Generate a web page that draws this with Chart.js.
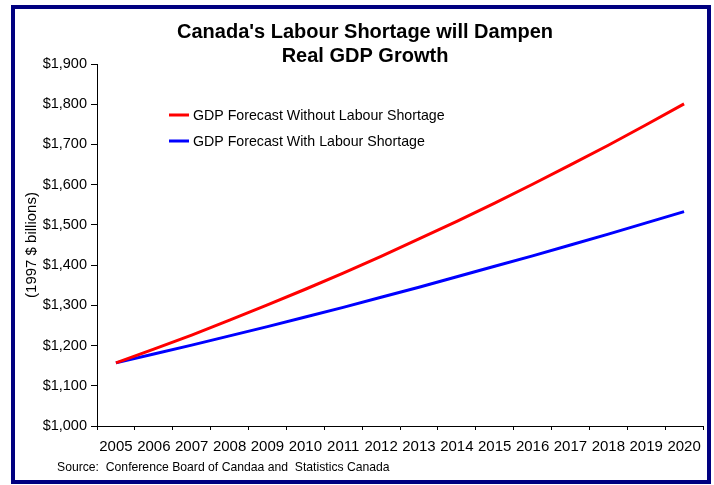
<!DOCTYPE html>
<html>
<head>
<meta charset="utf-8">
<title>Canada's Labour Shortage will Dampen Real GDP Growth</title>
<script src="https://cdn.jsdelivr.net/npm/chart.js@4/dist/chart.umd.min.js"></script>
<style>
  html, body { margin: 0; padding: 0; background: #ffffff; }
  #wrap { position: relative; width: 714px; height: 485px; overflow: hidden; }
  #gdp { position: absolute; left: 0; top: 0; }
  #frame {
    position: absolute; left: 11px; top: 5px; width: 700px; height: 479px;
    box-sizing: border-box; border: 4px solid #000080; pointer-events: none;
  }
</style>
</head>
<body>
<div id="wrap">
  <canvas id="gdp" width="714" height="485"></canvas>
  <div id="frame"></div>
</div>
<script>
// Real GDP, 1997 $ billions
const years = ['2005', '2006', '2007', '2008', '2009', '2010', '2011', '2012',
               '2013', '2014', '2015', '2016', '2017', '2018', '2019', '2020'];
const withoutShortage = [1157, 1191, 1226, 1263, 1301, 1340, 1380, 1422,
                         1465, 1509, 1554, 1601, 1649, 1698, 1749, 1801];
const withShortage = [1157, 1179, 1201, 1224, 1247, 1271, 1295, 1320,
                      1345, 1371, 1397, 1423, 1450, 1477, 1505, 1533];
const yTickValues = [1000, 1100, 1200, 1300, 1400, 1500, 1600, 1700, 1800, 1900];
const seriesNames = ['GDP Forecast Without Labour Shortage', 'GDP Forecast With Labour Shortage'];
const titleLines = ["Canada's Labour Shortage will Dampen", 'Real GDP Growth'];
const yAxisTitle = '(1997 $ billions)';
const sourceNote = 'Source:  Conference Board of Candaa and  Statistics Canada';

const FONT = '"Liberation Sans", Arial, Helvetica, sans-serif';
Chart.defaults.color = '#000000';
Chart.defaults.font.family = FONT;

const money = v => '$' + Number(v).toLocaleString('en-US');

// Legend inside the plot and the source line underneath
const annotations = {
  id: 'annotations',
  afterDraw(chart) {
    const ctx = chart.ctx;
    ctx.save();
    ctx.font = '14.2px ' + FONT;
    ctx.textAlign = 'left';
    ctx.textBaseline = 'alphabetic';
    chart.data.datasets.forEach((ds, i) => {
      const y = 115 + i * 26;
      ctx.strokeStyle = ds.borderColor;
      ctx.lineWidth = 3;
      ctx.beginPath();
      ctx.moveTo(169, y);
      ctx.lineTo(189, y);
      ctx.stroke();
      ctx.fillStyle = '#000000';
      ctx.fillText(ds.label, 193, y + 5);
    });
    ctx.font = '12.2px ' + FONT;
    ctx.fillText(sourceNote, 57, 471);
    ctx.restore();
  }
};

new Chart(document.getElementById('gdp'), {
  type: 'line',
  data: {
    labels: years,
    datasets: [
      { label: seriesNames[0], data: withoutShortage, borderColor: '#ff0000',
        backgroundColor: '#ff0000', borderWidth: 3, pointRadius: 0, tension: 0, fill: false },
      { label: seriesNames[1], data: withShortage, borderColor: '#0000ff',
        backgroundColor: '#0000ff', borderWidth: 3, pointRadius: 0, tension: 0, fill: false }
    ]
  },
  options: {
    responsive: false,
    animation: false,
    devicePixelRatio: 1,
    layout: { padding: { left: 27, right: 11, top: 20, bottom: 29 } },
    plugins: {
      legend: { display: false },
      tooltip: { enabled: false },
      title: {
        display: true,
        text: titleLines,
        color: '#000000',
        font: { family: FONT, size: 20, weight: 'bold', lineHeight: 1.2 },
        padding: { top: 0, bottom: -4 }
      }
    },
    scales: {
      x: {
        type: 'category',
        offset: true,
        grid: { display: true, offset: true, drawOnChartArea: false, drawTicks: true,
                tickLength: 4, color: '#000000', lineWidth: 1 },
        border: { display: true, color: '#000000', width: 1 },
        ticks: { autoSkip: false, maxRotation: 0, minRotation: 0, padding: 8,
                 color: '#000000', font: { family: FONT, size: 15 } },
        afterFit: s => { s.height = 30; }
      },
      y: {
        type: 'linear',
        min: 1000,
        max: 1900,
        afterBuildTicks: s => { s.ticks = yTickValues.map(v => ({ value: v })); },
        grid: { display: true, drawOnChartArea: false, drawTicks: true,
                tickLength: 6, color: '#000000', lineWidth: 1 },
        border: { display: true, color: '#000000', width: 1 },
        ticks: { padding: 4, color: '#000000', font: { family: FONT, size: 14.5 },
                 callback: v => money(v) },
        title: { display: true, text: yAxisTitle, color: '#000000',
                 font: { family: FONT, size: 15, lineHeight: 1.2 },
                 padding: { top: -4, bottom: 0 } },
        afterFit: s => { s.width = 70; }
      }
    }
  },
  plugins: [annotations]
});
</script>
</body>
</html>
